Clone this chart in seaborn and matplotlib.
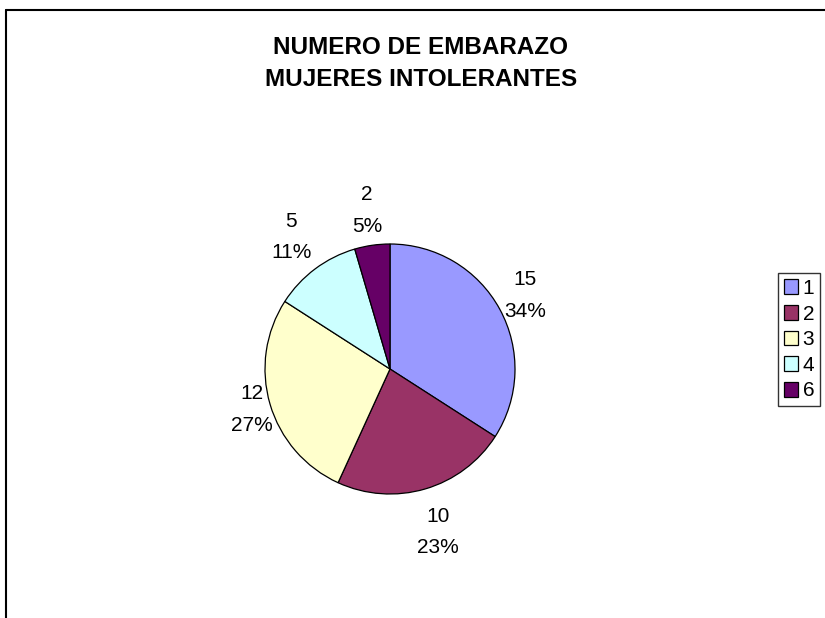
import numpy as np
import seaborn as sns
import matplotlib
matplotlib.use("Agg")
import matplotlib.pyplot as plt
from matplotlib.lines import Line2D

# === DATOS ===
categorias = ["1", "2", "3", "4", "6"]
valores = [15, 10, 12, 5, 2]
colores = ["#9999FF", "#993366", "#FFFFCC", "#CCFFFF", "#660066"]
titulo = "NUMERO DE EMBARAZO\nMUJERES INTOLERANTES"

# distancia de cada etiqueta al centro (en radios)
dist_etiquetas = [1.23, 1.36, 1.15, 1.32, 1.28]

sns.set_theme(style="white")
plt.rcParams["font.family"] = ["Liberation Sans", "DejaVu Sans"]
plt.rcParams["text.color"] = "black"

W, H = 825, 618
fig = plt.figure(figsize=(W / 100, H / 100), dpi=100)
fig.patch.set_facecolor("white")

# marco del grafico (solo se ven borde superior e izquierdo)
lw = 1.5
fig.add_artist(Line2D([6 / W, 1.0], [1 - 10 / H, 1 - 10 / H], color="black", lw=lw))
fig.add_artist(Line2D([6 / W, 6 / W], [1 - 10 / H, 0.0], color="black", lw=lw))

# titulo
fig.text(421 / W, 1 - 64 / H, titulo, ha="center", va="center",
         fontsize=17.5, fontweight="bold", linespacing=1.5)

# === PIE ===
cx, cy, r = 390, 369, 125
ax = fig.add_axes([(cx - r) / W, (H - cy - r) / H, 2 * r / W, 2 * r / H])
wedges, _ = ax.pie(valores, colors=sns.color_palette(colores), startangle=90,
                   counterclock=False, radius=1,
                   wedgeprops=dict(edgecolor="black", linewidth=0.9))
ax.set_xlim(-1, 1)
ax.set_ylim(-1, 1)
ax.set_aspect("equal")
ax.axis("off")

total = sum(valores)
for w, v, d in zip(wedges, valores, dist_etiquetas):
    ang = np.deg2rad((w.theta1 + w.theta2) / 2)
    pct = round(100 * v / total)
    ax.text(d * np.cos(ang), d * np.sin(ang), f"{v}\n{pct}%",
            ha="center", va="center", fontsize=15, linespacing=1.85,
            color="black", clip_on=False)

# === LEYENDA ===
leg = fig.legend(wedges, categorias, loc="upper left",
                 bbox_to_anchor=(778 / W, 1 - 273 / H), borderaxespad=0,
                 fontsize=15, frameon=True, fancybox=False, shadow=False,
                 handlelength=0.7, handleheight=0.7, handletextpad=0.2,
                 labelspacing=0.32, borderpad=0.28)
leg.get_frame().set_edgecolor("black")
leg.get_frame().set_linewidth(1.0)
leg.get_frame().set_facecolor("white")

fig.savefig("out.png", dpi=100, facecolor="white")
